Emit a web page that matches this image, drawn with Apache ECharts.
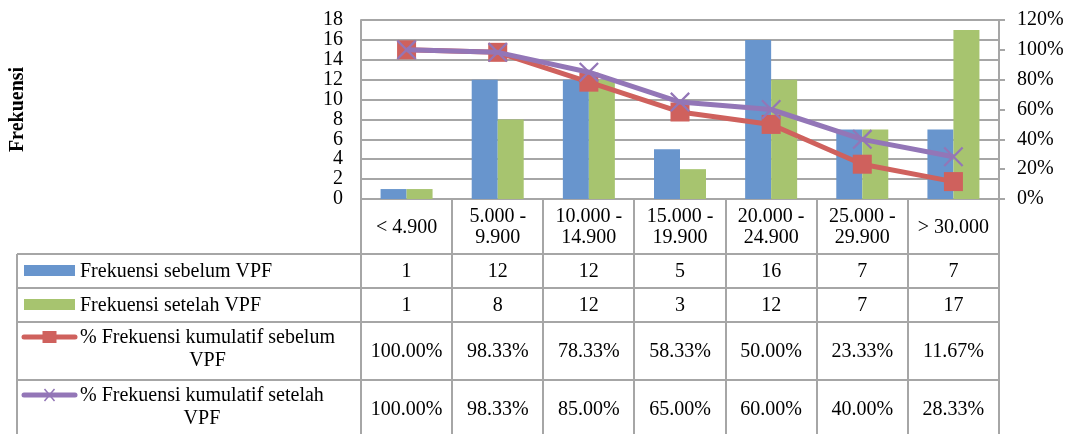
<!DOCTYPE html>
<html>
<head>
<meta charset="utf-8">
<script src="https://cdn.jsdelivr.net/npm/echarts@6/dist/echarts.min.js"></script>
<style>
  html, body { margin: 0; padding: 0; background: #ffffff; }
  #chart { width: 1071px; height: 434px; }
</style>
</head>
<body>
<div id="chart"></div>
<script>
// Income classes (Rupiah, thousands) and frequency counts
const categories = ['< 4.900', '5.000 -\n9.900', '10.000 -\n14.900', '15.000 -\n19.900', '20.000 -\n24.900', '25.000 -\n29.900', '> 30.000'];
const seriesNames = ['Frekuensi sebelum VPF', 'Frekuensi setelah VPF', '% Frekuensi kumulatif sebelum VPF', '% Frekuensi kumulatif setelah VPF'];
const legendLines = [['Frekuensi sebelum VPF'], ['Frekuensi setelah VPF'], ['% Frekuensi kumulatif sebelum', 'VPF'], ['% Frekuensi kumulatif setelah', 'VPF']];
const freqBefore = [1, 12, 12, 5, 16, 7, 7];
const freqAfter = [1, 8, 12, 3, 12, 7, 17];
const cumBefore = [100.00, 98.33, 78.33, 58.33, 50.00, 23.33, 11.67];
const cumAfter = [100.00, 98.33, 85.00, 65.00, 60.00, 40.00, 28.33];
const leftTicks = [0, 2, 4, 6, 8, 10, 12, 14, 16, 18];
const rightTicks = [0, 20, 40, 60, 80, 100, 120];

const colors = ['#6895CD', '#A7C46F', '#CF615D', '#9376B7'];
const gridColor = '#A6A6A6';
const FONT = '"Liberation Serif", "Times New Roman", serif';
const FS = 20;

// plot area
const G = { left: 361, top: 20, width: 638, height: 179 };
// table row boundaries under the plot
const rowEdges = [254, 288, 322, 380, 438];
const tableLeft = 17;

const chart = echarts.init(document.getElementById('chart'), null, { renderer: 'canvas' });

const ctx = document.createElement('canvas').getContext('2d');
ctx.font = FS + 'px ' + FONT;

function text(str, x, y, align) {
  return {
    type: 'text', silent: true,
    style: {
      text: str, x: x, y: y,
      align: align, textAlign: align,
      verticalAlign: 'middle', textVerticalAlign: 'middle',
      font: FS + 'px ' + FONT, fill: '#000', lineHeight: 21
    }
  };
}
function line(x1, y1, x2, y2, stroke, width, cap) {
  return {
    type: 'line', silent: true, shape: { x1, y1, x2, y2 },
    style: { stroke: stroke || gridColor, lineWidth: width || 2, lineCap: cap || 'butt' }
  };
}

function buildTable() {
  const n = categories.length;
  const colW = G.width / n;
  const bottom = G.top + G.height;
  const els = [];
  // vertical separators
  for (let i = 0; i <= n; i++) {
    const x = Math.round(G.left + i * colW);
    els.push(line(x, bottom, x, rowEdges[rowEdges.length - 1]));
  }
  els.push(line(tableLeft, rowEdges[0], tableLeft, rowEdges[rowEdges.length - 1]));
  // horizontal rules
  for (let r = 0; r < rowEdges.length - 1; r++) {
    els.push(line(tableLeft, rowEdges[r], G.left + G.width, rowEdges[r]));
  }
  // category header row
  for (let i = 0; i < n; i++) {
    els.push(text(categories[i], G.left + (i + 0.5) * colW, (bottom + rowEdges[0]) / 2 + 1, 'center'));
  }
  // value rows
  const rows = [
    freqBefore.map(String),
    freqAfter.map(String),
    cumBefore.map(v => v.toFixed(2) + '%'),
    cumAfter.map(v => v.toFixed(2) + '%')
  ];
  rows.forEach((vals, r) => {
    const cy = (rowEdges[r] + rowEdges[r + 1]) / 2;
    vals.forEach((v, i) => els.push(text(v, G.left + (i + 0.5) * colW, cy + 1, 'center')));
    // legend key text
    const lines = legendLines[r];
    const tx = 80;
    if (lines.length === 1) {
      els.push(text(lines[0], tx, cy + 1, 'left'));
    } else {
      const w = ctx.measureText(lines[0]).width;
      els.push(text(lines[0], tx, rowEdges[r] + 16, 'left'));
      els.push(text(lines[1], tx + w / 2, rowEdges[r] + 39, 'center'));
    }
  });
  // legend key symbols
  const kx = 24, kw = 51, kc = kx + kw / 2;
  [0, 1].forEach(r => {
    const cy = (rowEdges[r] + rowEdges[r + 1]) / 2;
    els.push({ type: 'rect', silent: true, shape: { x: kx, y: cy - 6, width: kw, height: 11 }, style: { fill: colors[r] } });
  });
  const y3 = rowEdges[2] + 15, y4 = rowEdges[3] + 15;
  els.push(line(kx, y3, kx + kw, y3, colors[2], 5, 'round'));
  els.push({ type: 'rect', silent: true, shape: { x: kc - 7, y: y3 - 6, width: 14, height: 12 }, style: { fill: colors[2] } });
  els.push(line(kx, y4, kx + kw, y4, colors[3], 5, 'round'));
  els.push(line(kc - 5, y4 - 6, kc + 5, y4 + 6, colors[3], 1.5));
  els.push(line(kc + 5, y4 - 6, kc - 5, y4 + 6, colors[3], 1.5));
  return els;
}

const xMark = 'path://M0,0.8L0.8,0L5,4.2L9.2,0L10,0.8L5.8,5L10,9.2L9.2,10L5,5.8L0.8,10L0,9.2L4.2,5Z';

chart.setOption({
  animation: false,
  backgroundColor: '#ffffff',
  textStyle: { fontFamily: FONT },
  grid: { left: G.left, top: G.top, width: G.width, height: G.height, containLabel: false },
  xAxis: {
    type: 'category', data: categories, boundaryGap: true,
    axisLine: { show: true, lineStyle: { color: gridColor, width: 2 } },
    axisTick: { show: false }, axisLabel: { show: false }, splitLine: { show: false }
  },
  yAxis: [
    {
      type: 'value', min: leftTicks[0], max: leftTicks[leftTicks.length - 1], interval: leftTicks[1] - leftTicks[0],
      name: 'Frekuensi', nameLocation: 'middle', nameRotate: 90, nameGap: 333,
      nameTextStyle: { fontFamily: FONT, fontSize: FS, fontWeight: 'bold', color: '#000' },
      axisLine: { show: true, lineStyle: { color: gridColor, width: 2 } },
      axisTick: { show: false },
      axisLabel: { color: '#000', fontFamily: FONT, fontSize: FS, margin: 18 },
      splitLine: { show: true, lineStyle: { color: gridColor, width: 2 } }
    },
    {
      type: 'value', min: rightTicks[0], max: rightTicks[rightTicks.length - 1], interval: rightTicks[1] - rightTicks[0],
      position: 'right',
      axisLine: { show: true, lineStyle: { color: gridColor, width: 2 } },
      axisTick: { show: true, inside: false, length: 6, lineStyle: { color: gridColor, width: 2 } },
      axisLabel: { color: '#000', fontFamily: FONT, fontSize: FS, margin: 18, formatter: '{value}%' },
      splitLine: { show: false }
    }
  ],
  series: [
    { name: seriesNames[0], type: 'bar', data: freqBefore, barWidth: 26, barGap: '0%', itemStyle: { color: colors[0] } },
    { name: seriesNames[1], type: 'bar', data: freqAfter, barWidth: 26, barGap: '0%', itemStyle: { color: colors[1] } },
    {
      name: seriesNames[2], type: 'line', yAxisIndex: 1, data: cumBefore,
      symbol: 'rect', symbolSize: 19, showAllSymbol: true,
      lineStyle: { color: colors[2], width: 5 }, itemStyle: { color: colors[2] }, z: 3
    },
    {
      name: seriesNames[3], type: 'line', yAxisIndex: 1, data: cumAfter,
      symbol: xMark, symbolSize: 20, showAllSymbol: true,
      lineStyle: { color: colors[3], width: 5 }, itemStyle: { color: colors[3] }, z: 4
    }
  ],
  graphic: buildTable()
});
</script>
</body>
</html>
